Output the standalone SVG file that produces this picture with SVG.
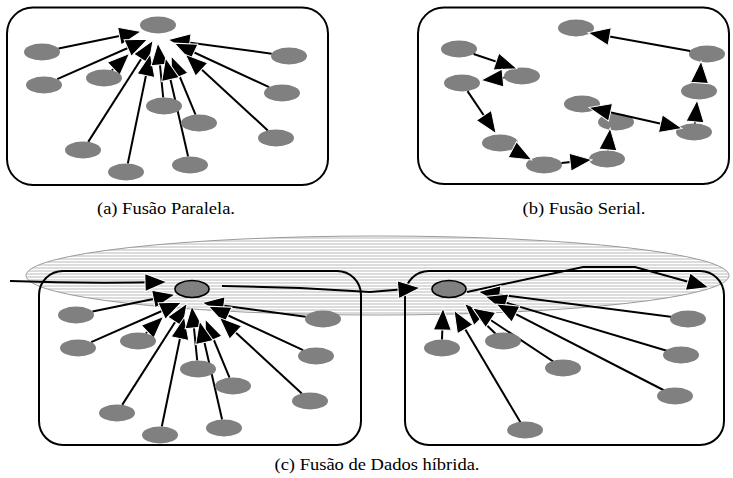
<svg xmlns="http://www.w3.org/2000/svg" width="733" height="478" viewBox="0 0 733 478">
  <style>
    .frame { fill: none; stroke: #000; stroke-width: 2; }
    .node { fill: #808080; }
    .hub { fill: #808080; stroke: #000; stroke-width: 1.6; }
    .edge { fill: none; stroke: #000; stroke-width: 2; marker-end: url(#ah); }
    .both { marker-start: url(#ah); }
    .cap { font-family: "Liberation Serif", "Times New Roman", serif; font-size: 16px; fill: #000; }
  </style>
  <defs>
    <marker id="ah" viewBox="0 0 24 20" refX="21" refY="10" markerWidth="24" markerHeight="20" markerUnits="userSpaceOnUse" orient="auto-start-reverse">
      <path d="M1,1 L23,10 L1,19 Z" fill="#000" stroke="#fff" stroke-width="1"/>
    </marker>
    <pattern id="stripes" width="6" height="3" patternUnits="userSpaceOnUse">
      <rect width="6" height="3" fill="#fff"/>
      <rect width="6" height="2" fill="#dcdcdc"/>
    </pattern>
  </defs>

  <!-- (a) parallel fusion -->
  <g id="panel-a">
    <rect class="frame" x="7" y="7.5" width="321" height="177.5" rx="26"/>
    <g id="a-edges">
      <path class="edge" d="M58.5,48.6 L139,32"/>
      <path class="edge" d="M271.7,53.7 L170,40"/>
      <path class="edge" d="M57.2,79.2 L146,40"/>
      <path class="edge" d="M111.9,70.4 L128,55"/>
      <path class="edge" d="M269.1,87.1 L176,44"/>
      <path class="edge" d="M267.8,130.4 L187,56"/>
      <path class="edge" d="M88.2,141.9 L152,42"/>
      <path class="edge" d="M127.8,163.5 L150,56"/>
      <path class="edge" d="M163.2,97.5 L158,45"/>
      <path class="edge" d="M195.5,114.7 L172,58"/>
      <path class="edge" d="M188.1,156.5 L166,60"/>
    </g>
    <g id="a-hub"><ellipse class="node" cx="158" cy="25" rx="18" ry="8.5"/></g>
    <g id="a-n1"><ellipse class="node" cx="42" cy="52" rx="18" ry="8.5"/></g>
    <g id="a-n2"><ellipse class="node" cx="289" cy="56" rx="18" ry="8.5"/></g>
    <g id="a-n3"><ellipse class="node" cx="44" cy="85" rx="18" ry="8.5"/></g>
    <g id="a-n4"><ellipse class="node" cx="104" cy="78" rx="18" ry="8.5"/></g>
    <g id="a-n5"><ellipse class="node" cx="282" cy="93" rx="18" ry="8.5"/></g>
    <g id="a-n6"><ellipse class="node" cx="164" cy="106" rx="18" ry="8.5"/></g>
    <g id="a-n7"><ellipse class="node" cx="199" cy="123" rx="18" ry="8.5"/></g>
    <g id="a-n8"><ellipse class="node" cx="276" cy="138" rx="18" ry="8.5"/></g>
    <g id="a-n9"><ellipse class="node" cx="83" cy="150" rx="18" ry="8.5"/></g>
    <g id="a-n10"><ellipse class="node" cx="126" cy="172" rx="18" ry="8.5"/></g>
    <g id="a-n11"><ellipse class="node" cx="190" cy="165" rx="18" ry="8.5"/></g>
  </g>

  <!-- (b) serial fusion -->
  <g id="panel-b">
    <rect class="frame" x="418" y="7.5" width="311" height="176.5" rx="26"/>
    <g id="b-n1"><ellipse class="node" cx="576" cy="28" rx="18" ry="8.5"/></g>
    <g id="b-n2"><ellipse class="node" cx="459" cy="49" rx="18" ry="8.5"/></g>
    <g id="b-n3"><ellipse class="node" cx="522" cy="76" rx="18" ry="8.5"/></g>
    <g id="b-n4"><ellipse class="node" cx="462" cy="83" rx="18" ry="8.5"/></g>
    <g id="b-n5"><ellipse class="node" cx="707" cy="54" rx="18" ry="8.5"/></g>
    <g id="b-n6"><ellipse class="node" cx="699" cy="91" rx="18" ry="8.5"/></g>
    <g id="b-n7"><ellipse class="node" cx="582" cy="104" rx="18" ry="8.5"/></g>
    <g id="b-n8"><ellipse class="node" cx="616" cy="122" rx="18" ry="8.5"/></g>
    <g id="b-n9"><ellipse class="node" cx="694" cy="132" rx="18" ry="8.5"/></g>
    <g id="b-n10"><ellipse class="node" cx="500" cy="143" rx="18" ry="8.5"/></g>
    <g id="b-n11"><ellipse class="node" cx="544" cy="165" rx="18" ry="8.5"/></g>
    <g id="b-n12"><ellipse class="node" cx="607" cy="159" rx="18" ry="8.5"/></g>
    <g id="b-edges">
      <path class="edge" d="M690.2,51 L590,33"/>
      <path class="edge" d="M473.6,54 L515,68"/>
      <path class="edge" d="M504.4,77.8 L483,80"/>
      <path class="edge" d="M467.5,91.1 L495,132"/>
      <path class="edge" d="M511.9,149.4 L530,159"/>
      <path class="edge" d="M561.5,163.1 L590,160"/>
      <path class="edge" d="M607.9,150.5 L610,130"/>
      <path class="edge both" d="M591,108 L680,128"/>
      <path class="edge" d="M694.9,123.5 L697,102"/>
      <path class="edge" d="M699.6,82.5 L701,63"/>
    </g>
  </g>

  <!-- (c) hybrid data fusion -->
  <g id="panel-c">
    <ellipse id="c-cluster" cx="377.5" cy="275.5" rx="351.5" ry="39.5" fill="url(#stripes)" stroke="#9a9a9a" stroke-width="1"/>
    <rect class="frame" x="39" y="271" width="322" height="174" rx="24"/>
    <rect class="frame" x="405" y="271" width="319" height="174" rx="24"/>

    <g id="c-edges">
      <path class="edge" d="M10,281 Q90,284 165,282"/>
      <path class="edge" d="M222,286 L300,288 L370,292 L418,288"/>
      <path class="edge" d="M467,292 L583,267 L635,267 L707,287"/>
      <g id="c-left-edges" transform="translate(34,263)">
        <path class="edge" d="M58.5,48.6 L139,32"/>
        <path class="edge" d="M271.7,53.7 L170,40"/>
        <path class="edge" d="M57.2,79.2 L146,40"/>
        <path class="edge" d="M111.9,70.4 L128,55"/>
        <path class="edge" d="M269.1,87.1 L176,44"/>
        <path class="edge" d="M267.8,130.4 L187,56"/>
        <path class="edge" d="M88.2,141.9 L152,42"/>
        <path class="edge" d="M127.8,163.5 L150,56"/>
        <path class="edge" d="M163.2,97.5 L158,45"/>
        <path class="edge" d="M195.5,114.7 L172,58"/>
        <path class="edge" d="M188.1,156.5 L166,60"/>
      </g>
      <path class="edge" d="M442,339.5 L443,310"/>
      <path class="edge" d="M525,430 L455,312"/>
      <path class="edge" d="M503,341 L466,305"/>
      <path class="edge" d="M563,368 L474,309"/>
      <path class="edge" d="M688,319 L480,292"/>
      <path class="edge" d="M681,355 L487,297"/>
      <path class="edge" d="M675,396 L498,305"/>
    </g>

    <g transform="translate(34,263)">
      <g id="c-hub1"><ellipse class="hub" cx="158" cy="26" rx="17" ry="8.5"/></g>
      <g id="c-l1"><ellipse class="node" cx="42" cy="52" rx="18" ry="8.5"/></g>
      <g id="c-l2"><ellipse class="node" cx="289" cy="56" rx="18" ry="8.5"/></g>
      <g id="c-l3"><ellipse class="node" cx="44" cy="85" rx="18" ry="8.5"/></g>
      <g id="c-l4"><ellipse class="node" cx="104" cy="78" rx="18" ry="8.5"/></g>
      <g id="c-l5"><ellipse class="node" cx="282" cy="93" rx="18" ry="8.5"/></g>
      <g id="c-l6"><ellipse class="node" cx="164" cy="106" rx="18" ry="8.5"/></g>
      <g id="c-l7"><ellipse class="node" cx="199" cy="123" rx="18" ry="8.5"/></g>
      <g id="c-l8"><ellipse class="node" cx="276" cy="138" rx="18" ry="8.5"/></g>
      <g id="c-l9"><ellipse class="node" cx="83" cy="150" rx="18" ry="8.5"/></g>
      <g id="c-l10"><ellipse class="node" cx="126" cy="172" rx="18" ry="8.5"/></g>
      <g id="c-l11"><ellipse class="node" cx="190" cy="165" rx="18" ry="8.5"/></g>
    </g>

    <g id="c-hub2"><ellipse class="hub" cx="449" cy="289" rx="17" ry="8.5"/></g>
    <g id="c-r1"><ellipse class="node" cx="688" cy="319" rx="18" ry="8.5"/></g>
    <g id="c-r2"><ellipse class="node" cx="681" cy="355" rx="18" ry="8.5"/></g>
    <g id="c-r3"><ellipse class="node" cx="675" cy="396" rx="18" ry="8.5"/></g>
    <g id="c-r4"><ellipse class="node" cx="442" cy="348" rx="18" ry="8.5"/></g>
    <g id="c-r5"><ellipse class="node" cx="503" cy="341" rx="18" ry="8.5"/></g>
    <g id="c-r6"><ellipse class="node" cx="563" cy="368" rx="18" ry="8.5"/></g>
    <g id="c-r7"><ellipse class="node" cx="525" cy="430" rx="18" ry="8.5"/></g>
  </g>

  <!-- captions -->
  <text class="cap" x="166" y="214" text-anchor="middle" textLength="138" lengthAdjust="spacingAndGlyphs">(a) Fusão Paralela.</text>
  <text class="cap" x="584" y="214" text-anchor="middle" textLength="123" lengthAdjust="spacingAndGlyphs">(b) Fusão Serial.</text>
  <text class="cap" x="377" y="470" text-anchor="middle" textLength="205" lengthAdjust="spacingAndGlyphs">(c) Fusão de Dados híbrida.</text>
</svg>
